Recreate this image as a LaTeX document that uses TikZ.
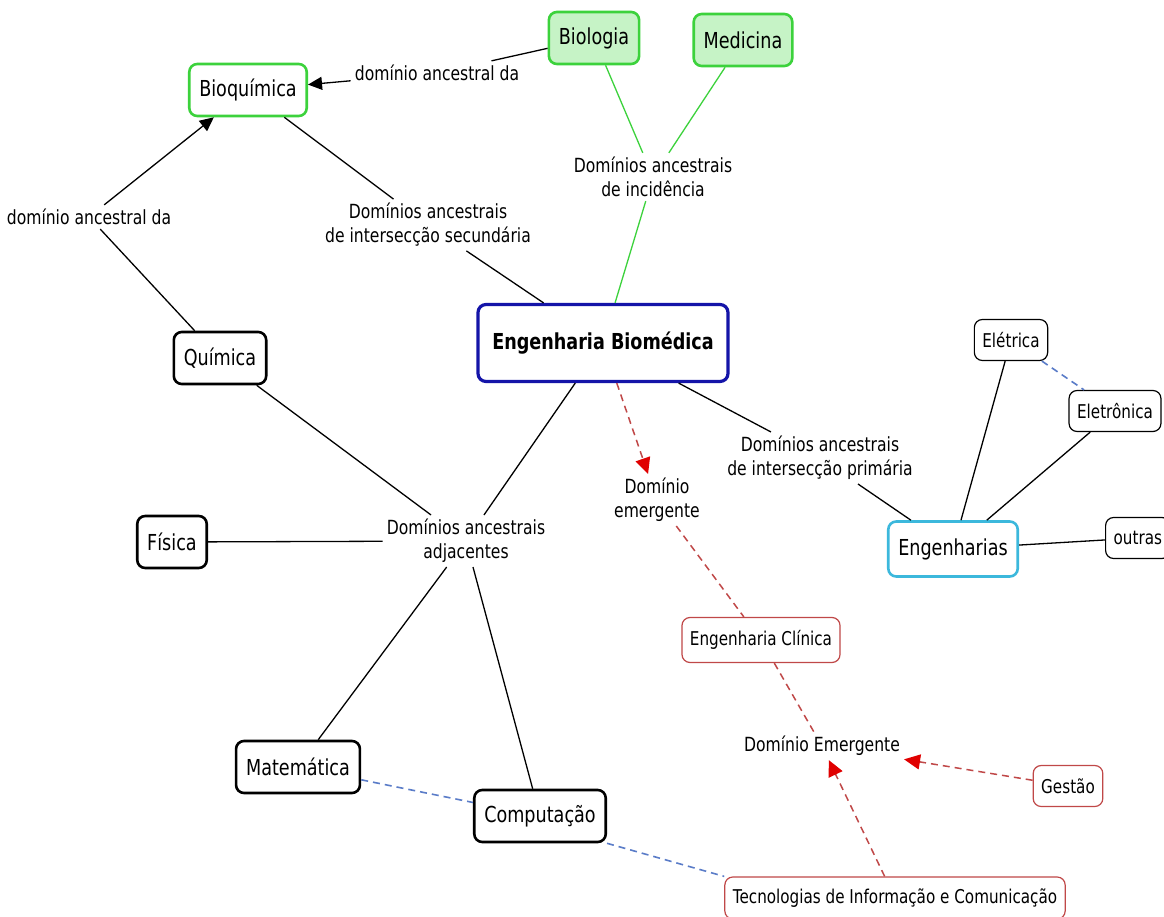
\documentclass[tikz,border=0pt]{standalone}
\usepackage{fontspec}
\setmainfont{DejaVu Sans}[FakeStretch=0.8]
\usetikzlibrary{arrows.meta}

\definecolor{verdeborda}{HTML}{3CD23C}
\definecolor{verdefundo}{HTML}{C6F3C6}
\definecolor{azulmain}{HTML}{1414A8}
\definecolor{ciano}{HTML}{3CB8DC}
\definecolor{vermelho}{HTML}{C04848}
\definecolor{setavermelha}{HTML}{E00000}
\definecolor{azultrac}{HTML}{5A7CC8}

\tikzset{
  conceito/.style={draw, rounded corners=8pt, line width=2.6pt, fill=white,
    inner xsep=10pt, minimum height=52pt, font=\fontsize{22}{26}\selectfont},
  fino/.style={draw, rounded corners=8pt, line width=1.2pt, fill=white,
    inner xsep=8pt, minimum height=41pt, font=\fontsize{19}{23}\selectfont},
  rotulo/.style={align=center, inner sep=4pt, font=\fontsize{19.5}{24}\selectfont},
  liga/.style={line width=1.3pt},
  seta/.style={line width=1.3pt, -{Triangle[length=14pt,width=13pt]}},
  emerge/.style={line width=1.5pt, vermelho, dash pattern=on 7pt off 5pt},
  emergeseta/.style={emerge, -{Triangle[length=16pt,width=15pt,color=setavermelha]}},
  tracejado/.style={line width=1.6pt, azultrac, dash pattern=on 7pt off 5pt}
}

\begin{document}
\begin{tikzpicture}[x=1pt,y=-1pt]

  \useasboundingbox[fill=white] (0,0) rectangle (1164,917);

  % conceitos
  \node[conceito, draw=azulmain, line width=3.2pt, minimum width=250pt, minimum height=77pt,
    font=\fontsize{22}{26}\selectfont\bfseries] (engbio) at (603,343) {Engenharia Biomédica};
  \node[conceito, draw=verdeborda, fill=verdefundo] (biologia) at (594,38) {Biologia};
  \node[conceito, draw=verdeborda, fill=verdefundo] (medicina) at (743,40) {Medicina};
  \node[conceito, draw=verdeborda] (bioquimica) at (248,90) {Bioquímica};
  \node[conceito] (quimica) at (220,358) {Química};
  \node[conceito] (fisica) at (172,542) {Física};
  \node[conceito] (matematica) at (298,767) {Matemática};
  \node[conceito] (computacao) at (540,816) {Computação};
  \node[conceito, draw=ciano, minimum height=55pt] (engenharias) at (953,549) {Engenharias};
  \node[fino] (eletrica) at (1011,340) {Elétrica};
  \node[fino] (eletronica) at (1115,411) {Eletrônica};
  \node[fino, anchor=west] (outras) at (1105,538) {outras};
  \node[fino, draw=vermelho, minimum height=45pt] (engclinica) at (761,640) {Engenharia Clínica};
  \node[fino, draw=vermelho] (gestao) at (1068,786) {Gestão};
  \node[fino, draw=vermelho, minimum height=42pt] (tic) at (895,898) {Tecnologias de Informação e Comunicação};

  % frases de ligacao
  \node[rotulo] (ancbio) at (437,73) {domínio ancestral da};
  \node[rotulo] (ancquim) at (89,217) {domínio ancestral da};
  \node[rotulo] (incid) at (653,177) {Domínios ancestrais\\de incidência};
  \node[rotulo] (secund) at (428,225) {Domínios ancestrais\\de intersecção secundária};
  \node[rotulo] (primar) at (820,458) {Domínios ancestrais\\de intersecção primária};
  \node[rotulo] (adjac) at (466,541) {Domínios ancestrais\\adjacentes};
  \node[rotulo] (emerg) at (657,500) {Domínio\\emergente};
  \node[rotulo] (domemerg) at (822,746) {Domínio Emergente};

  % ligacoes
  \draw[liga] (biologia) -- (ancbio);
  \draw[seta] (ancbio) -- (bioquimica);
  \draw[liga] (quimica) -- (ancquim);
  \draw[seta] (ancquim) -- (bioquimica);

  \draw[liga, verdeborda] (biologia) -- (incid);
  \draw[liga, verdeborda] (medicina) -- (incid);
  \draw[liga, verdeborda] (incid) -- (engbio);

  \draw[liga] (bioquimica) -- (secund);
  \draw[liga] (secund) -- (engbio);

  \draw[liga] (engbio) -- (primar);
  \draw[liga] (primar) -- (engenharias);
  \draw[liga] (eletrica) -- (engenharias);
  \draw[liga] (eletronica) -- (engenharias);
  \draw[liga] (engenharias) -- (outras);
  \draw[tracejado] (eletrica) -- (eletronica);

  \draw[liga] (quimica) -- (adjac);
  \draw[liga] (fisica) -- (adjac);
  \draw[liga] (engbio) -- (adjac);
  \draw[liga] (adjac) -- (matematica);
  \draw[liga] (adjac) -- (computacao);
  \draw[tracejado] (matematica) -- (computacao);
  \draw[tracejado] (computacao.south east) -- (tic.north west);

  \draw[emergeseta] (engbio) -- (emerg);
  \draw[emerge] (emerg) -- (engclinica);
  \draw[emerge] (engclinica) -- (domemerg);
  \draw[emergeseta] (gestao) -- (domemerg);
  \draw[emergeseta] (tic) -- (domemerg);

\end{tikzpicture}
\end{document}
